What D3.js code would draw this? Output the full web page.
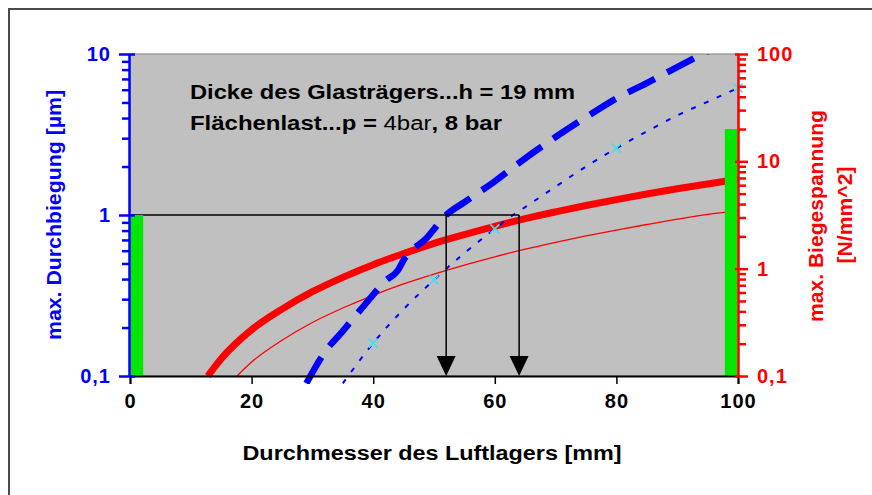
<!DOCTYPE html>
<html>
<head>
<meta charset="utf-8">
<script src="https://cdn.jsdelivr.net/npm/d3@7"></script>
<style>
  html, body { margin: 0; padding: 0; background: #ffffff; }
  svg { display: block; }
  text { font-family: "Liberation Sans", Arial, sans-serif; font-weight: bold; }
</style>
</head>
<body>
<svg id="chart" width="872" height="495"></svg>
<script>
// Diameter of the air bearing [mm] on the x axis
const xTicks = [0, 20, 40, 60, 80, 100];
const leftTicks = [0.1, 1, 10];
const leftTickLabels = ["0,1", "1", "10"];
const rightTicks = [0.1, 1, 10, 100];
const rightTickLabels = ["0,1", "1", "10", "100"];

// Max. deflection [µm], 8 bar (thick dashed) — [diameter, value]
const deflection8bar = [
  [29, 0.09], [32, 0.14], [35, 0.19], [38, 0.26], [40, 0.32], [42, 0.39],
  [44, 0.45], [45.2, 0.54], [48.8, 0.72], [52, 1.0], [55, 1.2], [60, 1.62],
  [65, 2.25], [70, 3.05], [75, 4.05], [80, 5.3], [85, 6.6], [90, 8.3], [95, 10.4]
];
// Max. deflection [µm], 4 bar (thin dashed)
const deflection4bar = [
  [35, 0.09], [40, 0.16], [45, 0.26], [50, 0.395], [55, 0.58], [60, 0.82],
  [63, 1.0], [65, 1.12], [70, 1.5], [75, 2.0], [80, 2.6], [85, 3.3],
  [90, 4.15], [95, 5.05], [100, 6.15]
];
// Point markers on the 4 bar deflection curve
const deflection4barMarkers = [[40, 0.16], [50, 0.395], [60, 0.82], [80, 2.6], [100, 6.15]];

// Max. bending stress [N/mm^2], 8 bar (thick) and 4 bar (thin)
const stress8bar = [
  [12.8, 0.10], [15, 0.145], [20, 0.27], [25, 0.42], [30, 0.61], [35, 0.83],
  [40, 1.09], [45, 1.38], [50, 1.72], [55, 2.08], [60, 2.48], [65, 2.92],
  [70, 3.38], [75, 3.88], [80, 4.40], [85, 4.96], [90, 5.55], [95, 6.15], [100, 6.8]
];
const stress4bar = [
  [17.6, 0.10], [20, 0.135], [25, 0.215], [30, 0.315], [35, 0.43], [40, 0.565],
  [45, 0.72], [50, 0.89], [55, 1.08], [60, 1.29], [65, 1.52], [70, 1.76],
  [75, 2.02], [80, 2.29], [85, 2.58], [90, 2.89], [95, 3.2], [100, 3.45]
];

// Permissible limits: deflection 1 µm, bending stress 20 N/mm^2
const limitDeflection = 1;
const limitStress = 20;
const limitBandLeft = [0, 2];
const limitBandRight = [98, 100];
// Diameters where the deflection curves reach the limit
const limitDiameters = [52, 64];

const svg = d3.select("#chart");
const L = 130, R = 738, T = 54, B = 376;

const x = d3.scaleLinear().domain([0, 100]).range([L, R]);
const yL = d3.scaleLog().domain([0.1, 10]).range([B, T]);
const yR = d3.scaleLog().domain([0.1, 100]).range([B, T]);

// outer frame
svg.append("rect").attr("x", 9).attr("y", 9).attr("width", 900).attr("height", 600)
  .attr("fill", "#ffffff").attr("stroke", "#4a4a4a").attr("stroke-width", 2);

// plot area
svg.append("rect").attr("x", L).attr("y", T).attr("width", R - L).attr("height", B - T)
  .attr("fill", "#c0c0c0").attr("stroke", "#808080").attr("stroke-width", 1);

svg.append("clipPath").attr("id", "plotClip")
  .append("rect").attr("x", L).attr("y", T).attr("width", R - L).attr("height", B - T + 8);

const curves = svg.append("g").attr("clip-path", "url(#plotClip)");

const lineL = d3.line().x(d => x(d[0])).y(d => yL(d[1])).curve(d3.curveMonotoneX);
const lineR = d3.line().x(d => x(d[0])).y(d => yR(d[1])).curve(d3.curveMonotoneX);

// stress curves (right axis)
curves.append("path").datum(stress4bar).attr("d", lineR)
  .attr("fill", "none").attr("stroke", "#ff0000").attr("stroke-width", 1.3);
curves.append("path").datum(stress8bar).attr("d", lineR)
  .attr("fill", "none").attr("stroke", "#ff0000").attr("stroke-width", 7);

// deflection curves (left axis)
curves.append("path").datum(deflection4bar).attr("d", lineL)
  .attr("fill", "none").attr("stroke", "#0000ff").attr("stroke-width", 2)
  .attr("stroke-dasharray", "5,9");
curves.append("path").datum(deflection8bar).attr("d", lineL)
  .attr("fill", "none").attr("stroke", "#0000ff").attr("stroke-width", 6.5)
  .attr("stroke-dasharray", "30,14");

// markers on the 4 bar deflection curve
const mk = svg.append("g");
deflection4barMarkers.forEach(d => {
  const cx = x(d[0]), cy = yL(d[1]), s = 4.5;
  mk.append("path")
    .attr("d", `M${cx - s},${cy - s}L${cx + s},${cy + s}M${cx - s},${cy + s}L${cx + s},${cy - s}`)
    .attr("stroke", "#3fe0ee").attr("stroke-width", 1.6).attr("fill", "none");
});

// read-off lines with arrows down to the x axis
const guide = svg.append("g");
guide.append("line")
  .attr("x1", x(0)).attr("x2", x(d3.max(limitDiameters)))
  .attr("y1", yL(limitDeflection)).attr("y2", yL(limitDeflection))
  .attr("stroke", "#000").attr("stroke-width", 1.5);
limitDiameters.forEach(dm => {
  guide.append("line")
    .attr("x1", x(dm)).attr("x2", x(dm))
    .attr("y1", yL(limitDeflection)).attr("y2", B - 4)
    .attr("stroke", "#000").attr("stroke-width", 1.5);
  guide.append("path")
    .attr("d", `M${x(dm) - 9.5},${B - 20}L${x(dm) + 9.5},${B - 20}L${x(dm)},${B}Z`)
    .attr("fill", "#000");
});

// limit bands
svg.append("rect")
  .attr("x", x(limitBandLeft[0]) + 1).attr("width", x(limitBandLeft[1]) - x(limitBandLeft[0]))
  .attr("y", yL(limitDeflection)).attr("height", B - yL(limitDeflection))
  .attr("fill", "#00e800");
svg.append("rect")
  .attr("x", x(limitBandRight[0]) - 1).attr("width", x(limitBandRight[1]) - x(limitBandRight[0]))
  .attr("y", yR(limitStress)).attr("height", B - yR(limitStress))
  .attr("fill", "#00e800");

// minor tick values for log axes
function minorTicks(domain) {
  const out = [];
  for (let p = Math.log10(domain[0]); p < Math.log10(domain[1]); p++) {
    for (let m = 2; m <= 9; m++) out.push(m * Math.pow(10, p));
  }
  return out;
}

// x axis
const xAxis = svg.append("g").attr("transform", `translate(0,${B})`)
  .call(d3.axisBottom(x).tickValues(xTicks).tickSize(8).tickPadding(8).tickFormat(d3.format("d")));
xAxis.select(".domain").attr("stroke", "#000").attr("stroke-width", 2);
xAxis.selectAll(".tick line").attr("stroke", "#000").attr("stroke-width", 1.5);
xAxis.selectAll(".tick text").attr("font-size", 20).attr("fill", "#000")
  .attr("letter-spacing", 1).attr("dy", "0.78em");

// left axis (deflection)
const yLeftMinor = svg.append("g").attr("transform", `translate(${L - 1},0)`)
  .call(d3.axisLeft(yL).tickValues(minorTicks(yL.domain())).tickSize(7).tickFormat(""));
yLeftMinor.select(".domain").remove();
yLeftMinor.selectAll(".tick line").attr("stroke", "#0000ff").attr("stroke-width", 2.5);

const yLeft = svg.append("g").attr("transform", `translate(${L - 1},0)`)
  .call(d3.axisLeft(yL).tickValues(leftTicks).tickSizeInner(10).tickSizeOuter(0).tickPadding(8)
    .tickFormat((d, i) => leftTickLabels[i]));
yLeft.select(".domain").attr("stroke", "#0000ff").attr("stroke-width", 2.5);
yLeft.selectAll(".tick line").attr("stroke", "#0000ff").attr("stroke-width", 2.5).attr("x2", -10).attr("x1", 6);
yLeft.selectAll(".tick text").attr("font-size", 20).attr("fill", "#0000ff").attr("letter-spacing", 1);

// right axis (bending stress)
const yRightMinor = svg.append("g").attr("transform", `translate(${R},0)`)
  .call(d3.axisRight(yR).tickValues(minorTicks(yR.domain())).tickSize(8).tickFormat(""));
yRightMinor.select(".domain").remove();
yRightMinor.selectAll(".tick line").attr("stroke", "#ff0000").attr("stroke-width", 2.5);

const yRight = svg.append("g").attr("transform", `translate(${R},0)`)
  .call(d3.axisRight(yR).tickValues(rightTicks).tickSizeInner(10).tickSizeOuter(0).tickPadding(9)
    .tickFormat((d, i) => rightTickLabels[i]));
yRight.select(".domain").attr("stroke", "#ff0000").attr("stroke-width", 2.5);
yRight.selectAll(".tick line").attr("stroke", "#ff0000").attr("stroke-width", 2.5).attr("x1", -3);
yRight.selectAll(".tick text").attr("font-size", 20).attr("fill", "#ff0000").attr("letter-spacing", 1);

// axis titles
svg.append("text").attr("x", 432).attr("y", 460).attr("text-anchor", "middle")
  .attr("font-size", 20).attr("fill", "#000")
  .attr("textLength", 379).attr("lengthAdjust", "spacingAndGlyphs")
  .text("Durchmesser des Luftlagers [mm]");

svg.append("text").attr("transform", "translate(61,215) rotate(-90)")
  .attr("text-anchor", "middle").attr("font-size", 20).attr("fill", "#0000ff")
  .attr("textLength", 250).attr("lengthAdjust", "spacingAndGlyphs")
  .text("max. Durchbiegung [µm]");

svg.append("text").attr("transform", "translate(823,216) rotate(-90)")
  .attr("text-anchor", "middle").attr("font-size", 20).attr("fill", "#ff0000")
  .attr("textLength", 212).attr("lengthAdjust", "spacingAndGlyphs")
  .text("max. Biegespannung");
svg.append("text").attr("transform", "translate(852,215) rotate(-90)")
  .attr("text-anchor", "middle").attr("font-size", 20).attr("fill", "#ff0000")
  .attr("textLength", 97).attr("lengthAdjust", "spacingAndGlyphs")
  .text("[N/mm^2]");

// parameter annotation
svg.append("text").attr("x", 190).attr("y", 99).attr("font-size", 20).attr("fill", "#000")
  .attr("textLength", 385).attr("lengthAdjust", "spacingAndGlyphs")
  .text("Dicke des Glasträgers...h = 19 mm");
const t2 = svg.append("text").attr("x", 190).attr("y", 130).attr("font-size", 20).attr("fill", "#000")
  .attr("textLength", 312).attr("lengthAdjust", "spacingAndGlyphs");
t2.append("tspan").text("Flächenlast...p = ");
t2.append("tspan").attr("font-weight", "normal").text("4bar");
t2.append("tspan").text(", 8 bar");
</script>
</body>
</html>
